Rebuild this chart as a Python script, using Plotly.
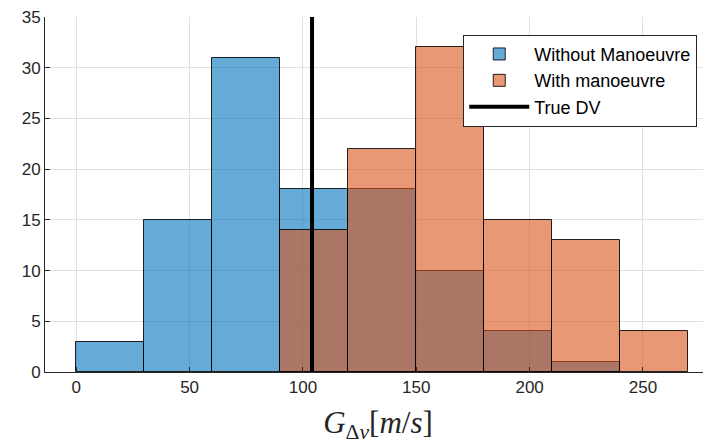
import plotly.graph_objects as go

bin_edges = [0, 30, 60, 90, 120, 150, 180, 210, 240, 270]
without_counts = [3, 15, 31, 18, 18, 10, 4, 1, 0]
with_counts = [0, 0, 0, 14, 22, 32, 15, 13, 4]
true_dv = 104
series_names = ["Without Manoeuvre", "With manoeuvre", "True DV"]

centers = [(a + b) / 2 for a, b in zip(bin_edges[:-1], bin_edges[1:])]
widths = [b - a for a, b in zip(bin_edges[:-1], bin_edges[1:])]

def nz(counts):
    xs, ys, ws = [], [], []
    for c, v, w in zip(centers, counts, widths):
        if v > 0:
            xs.append(c); ys.append(v); ws.append(w)
    return xs, ys, ws

fig = go.Figure()
x1, y1, w1 = nz(without_counts)
fig.add_trace(go.Bar(x=x1, y=y1, width=w1, name=series_names[0],
                     marker=dict(color="rgba(0,114,189,0.6)", line=dict(color="rgba(0,0,0,0.85)", width=1))))
x2, y2, w2 = nz(with_counts)
fig.add_trace(go.Bar(x=x2, y=y2, width=w2, name=series_names[1],
                     marker=dict(color="rgba(217,83,25,0.6)", line=dict(color="rgba(0,0,0,0.85)", width=1))))
fig.add_trace(go.Scatter(x=[true_dv, true_dv], y=[0, 35], mode="lines", name=series_names[2],
                         line=dict(color="black", width=4)))

axis_common = dict(showgrid=True, gridcolor="#e0e0e0", gridwidth=1, zeroline=False,
                   showline=True, linecolor="#262626", linewidth=1, ticks="inside",
                   ticklen=5, tickcolor="#262626", automargin=False,
                   ticklabeloverflow="allow",
                   tickfont=dict(family="Liberation Sans, Arial", size=17, color="#262626"))

# page body has an 8px margin; figure sized to fit the 711x447 window
fig.update_layout(
    width=703, height=439,
    margin=dict(l=37, r=0, t=9, b=75, autoexpand=False),
    paper_bgcolor="white", plot_bgcolor="white",
    barmode="overlay", bargap=0,
    showlegend=True,
    legend=dict(x=0.628, y=0.95, xanchor="left", yanchor="top",
                bgcolor="white", bordercolor="#262626", borderwidth=1,
                font=dict(family="Liberation Sans, Arial", size=18, color="black"),
                itemwidth=60, tracegroupgap=0),
    xaxis=dict(range=[-13.8, 280], tickvals=[0, 50, 100, 150, 200, 250],
               title=dict(text="<i>G</i><sub>Δ<i>v</i></sub>[<i>m</i>/<i>s</i>]",
                          font=dict(family="Liberation Serif, DejaVu Serif", size=31, color="#262626"),
                          standoff=14),
               **axis_common),
    yaxis=dict(range=[0, 35], tickvals=[0, 5, 10, 15, 20, 25, 30, 35], **axis_common),
)

fig.write_html("out.html")
